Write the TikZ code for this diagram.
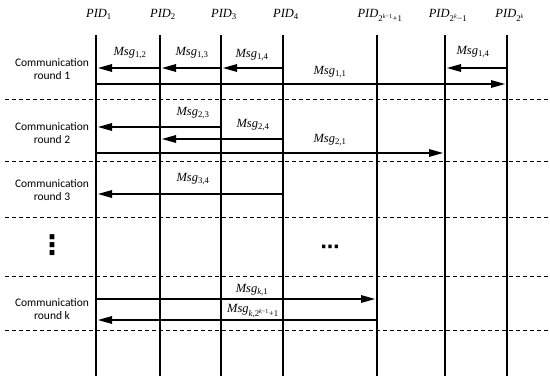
\documentclass[tikz,border=0pt]{standalone}
\usepackage{fontspec}
\setmainfont{Liberation Serif}
\newfontfamily\roundfont{Carlito}
\newfontfamily\dotsfont{DejaVu Sans}
\usetikzlibrary{arrows.meta}
\newcommand{\pidlabel}[1]{\textit{PID}\textsubscript{#1}}
\newcommand{\msglabel}[1]{\textit{Msg}\textsubscript{#1}}

\begin{document}
\begin{tikzpicture}[x=1pt,y=-1pt,
      lane/.style={line width=1.9pt},
      sep/.style={line width=0.7pt,dash pattern=on 4pt off 3pt},
      msgarrow/.style={line width=2.8pt,-{Triangle[length=15pt,width=7pt]},shorten >=1pt},
      head/.style={font=\fontsize{12.5}{14}\selectfont,anchor=base,inner sep=0pt},
      tag/.style={font=\fontsize{12.5}{14}\selectfont,anchor=base,inner sep=0pt},
      roundlabel/.style={font=\roundfont\fontsize{11.5}{13.5}\selectfont,align=center,inner sep=0pt}]
      \useasboundingbox (0,0) rectangle (550,385);
      % process lanes
      \foreach \i/\x/\s in {1/96/1,2/160/2,3/221/3,4/283/4,
          5/377/{2\textsuperscript{\textit{k}−1}+1},6/445/{2\textsuperscript{\textit{k}}−1},7/507/{2\textsuperscript{\textit{k}}}}{
        \node[head] (pid\i) at (\x+3,18) {\pidlabel{\s}};
        \coordinate (t\i) at (\x,35);
        \coordinate (b\i) at (\x,376);
        \draw[lane] (t\i) -- (b\i);
      }
      % round separators
      \foreach \y [count=\j] in {99,161,217,276,330}{
        \coordinate (sl\j) at (5,\y);
        \coordinate (sr\j) at (548,\y);
        \draw[sep] (sl\j) -- (sr\j);
      }
      \node[roundlabel] (rd1) at (52,69) {Communication\\round 1};
      \node[roundlabel] (rd2) at (52,133) {Communication\\round 2};
      \node[roundlabel] (rd3) at (52,190) {Communication\\round 3};
      \node[roundlabel] (rdk) at (52,309) {Communication\\round k};
      \node[font=\dotsfont\bfseries\fontsize{27}{28}\selectfont,inner sep=0pt] (vdots) at (52,245) {⋮};
      \node[font=\dotsfont\bfseries\fontsize{19}{20}\selectfont,inner sep=0pt] (hdots) at (330,249) {⋯};
      % row heights
      \coordinate (r1a) at (0,68);
      \coordinate (r1b) at (0,84);
      \coordinate (r2a) at (0,127);
      \coordinate (r2b) at (0,139);
      \coordinate (r2c) at (0,153);
      \coordinate (r3a) at (0,194);
      \coordinate (rka) at (0,299);
      \coordinate (rkb) at (0,320);
      % round 1
      \draw[msgarrow] (t2 |- r1a) -- (t1 |- r1a);
      \draw[msgarrow] (t3 |- r1a) -- (t2 |- r1a);
      \draw[msgarrow] (t4 |- r1a) -- (t3 |- r1a);
      \draw[msgarrow] (t7 |- r1a) -- (t6 |- r1a);
      \draw[msgarrow] (t1 |- r1b) -- (t7 |- r1b);
      \node[tag] (m12) at (130,56) {\msglabel{1,2}};
      \node[tag] (m13) at (192,56) {\msglabel{1,3}};
      \node[tag] (m14) at (252,58) {\msglabel{1,4}};
      \node[tag] (m14r) at (473,55) {\msglabel{1,4}};
      \node[tag] (m11) at (330,75) {\msglabel{1,1}};
      % round 2
      \draw[msgarrow] (t3 |- r2a) -- (t1 |- r2a);
      \draw[msgarrow] (t4 |- r2b) -- (t2 |- r2b);
      \draw[msgarrow] (t1 |- r2c) -- (t6 |- r2c);
      \node[tag] (m23) at (193,116) {\msglabel{2,3}};
      \node[tag] (m24) at (253,128) {\msglabel{2,4}};
      \node[tag] (m21) at (330,143) {\msglabel{2,1}};
      % round 3
      \draw[msgarrow] (t4 |- r3a) -- (t1 |- r3a);
      \node[tag] (m34) at (193,182) {\msglabel{3,4}};
      % round k
      \draw[msgarrow] (t1 |- rka) -- (t5 |- rka);
      \draw[msgarrow] (t5 |- rkb) -- (t1 |- rkb);
      \node[tag] (mk1) at (252,293) {\msglabel{\textit{k},1}};
      \node[tag] (mkm) at (253,313) {\msglabel{\textit{k},2\textsuperscript{\textit{k}−1}+1}};
    \end{tikzpicture}
\end{document}
